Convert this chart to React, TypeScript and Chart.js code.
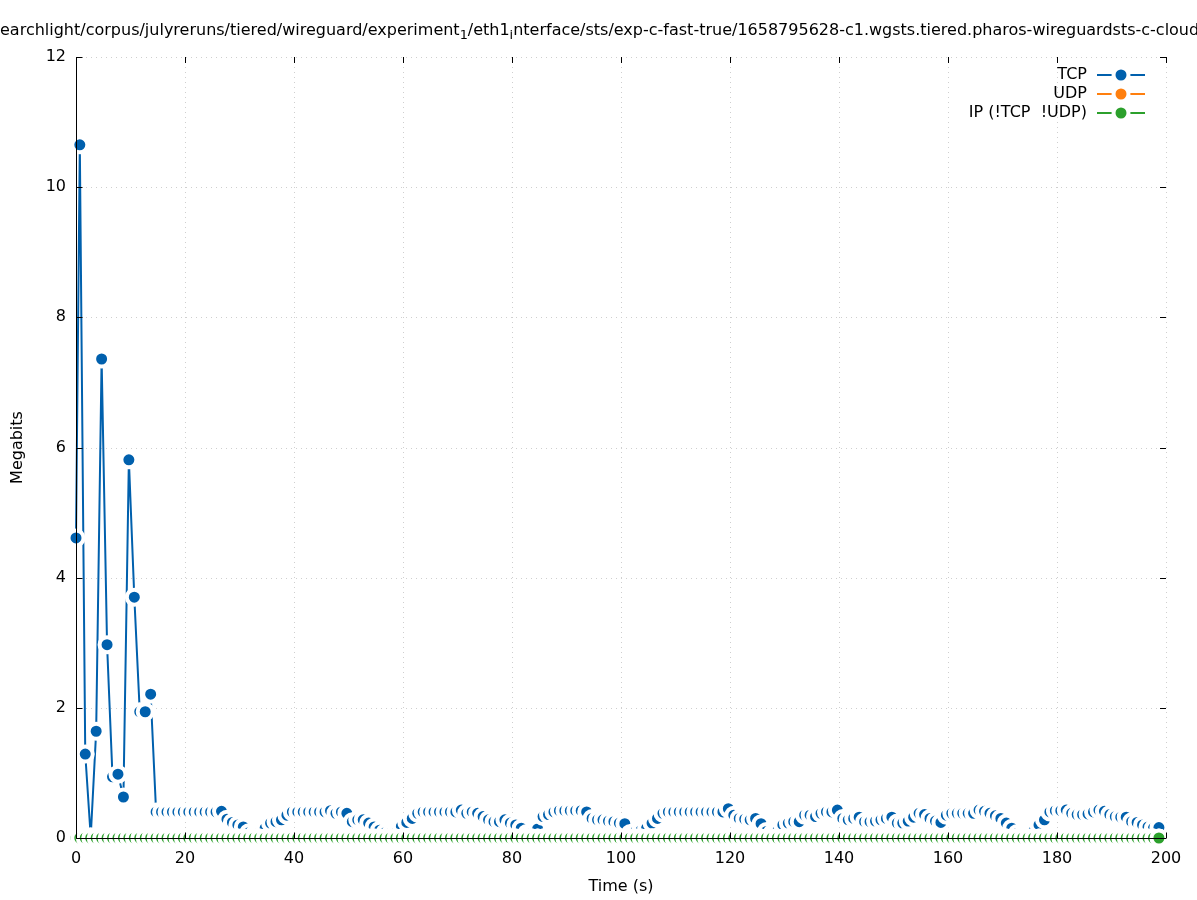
import React, { useEffect, useRef } from "react";
import { Chart, registerables } from "chart.js";

Chart.register(...registerables);

// ---------- data ----------
const TIMES_S = [
  0,
  0.7, 1.7, 2.7, 3.7, 4.7, 5.7, 6.7, 7.7, 8.7, 9.7,
  10.7, 11.7, 12.7, 13.7, 14.7, 15.7, 16.7, 17.7, 18.7, 19.7,
  20.7, 21.7, 22.7, 23.7, 24.7, 25.7, 26.7, 27.7, 28.7, 29.7,
  30.7, 31.7, 32.7, 33.7, 34.7, 35.7, 36.7, 37.7, 38.7, 39.7,
  40.7, 41.7, 42.7, 43.7, 44.7, 45.7, 46.7, 47.7, 48.7, 49.7,
  50.7, 51.7, 52.7, 53.7, 54.7, 55.7, 56.7, 57.7, 58.7, 59.7,
  60.7, 61.7, 62.7, 63.7, 64.7, 65.7, 66.7, 67.7, 68.7, 69.7,
  70.7, 71.7, 72.7, 73.7, 74.7, 75.7, 76.7, 77.7, 78.7, 79.7,
  80.7, 81.7, 82.7, 83.7, 84.7, 85.7, 86.7, 87.7, 88.7, 89.7,
  90.7, 91.7, 92.7, 93.7, 94.7, 95.7, 96.7, 97.7, 98.7, 99.7,
  100.7, 101.7, 102.7, 103.7, 104.7, 105.7, 106.7, 107.7, 108.7, 109.7,
  110.7, 111.7, 112.7, 113.7, 114.7, 115.7, 116.7, 117.7, 118.7, 119.7,
  120.7, 121.7, 122.7, 123.7, 124.7, 125.7, 126.7, 127.7, 128.7, 129.7,
  130.7, 131.7, 132.7, 133.7, 134.7, 135.7, 136.7, 137.7, 138.7, 139.7,
  140.7, 141.7, 142.7, 143.7, 144.7, 145.7, 146.7, 147.7, 148.7, 149.7,
  150.7, 151.7, 152.7, 153.7, 154.7, 155.7, 156.7, 157.7, 158.7, 159.7,
  160.7, 161.7, 162.7, 163.7, 164.7, 165.7, 166.7, 167.7, 168.7, 169.7,
  170.7, 171.7, 172.7, 173.7, 174.7, 175.7, 176.7, 177.7, 178.7, 179.7,
  180.7, 181.7, 182.7, 183.7, 184.7, 185.7, 186.7, 187.7, 188.7, 189.7,
  190.7, 191.7, 192.7, 193.7, 194.7, 195.7, 196.7, 197.7, 198.7,
];

const TCP_MBITS = [
  4.61,
  10.65, 1.29, 0.02, 1.64, 7.36, 2.97, 0.94, 0.98, 0.63, 5.81,
  3.70, 1.94, 1.94, 2.21, 0.40, 0.40, 0.40, 0.40, 0.40, 0.40,
  0.40, 0.40, 0.40, 0.40, 0.40, 0.40, 0.41, 0.29, 0.24, 0.20,
  0.17, 0.08, 0.06, 0.08, 0.15, 0.23, 0.25, 0.28, 0.35, 0.40,
  0.40, 0.40, 0.40, 0.40, 0.40, 0.40, 0.42, 0.38, 0.40, 0.38,
  0.25, 0.28, 0.28, 0.23, 0.17, 0.12, 0.08, 0.07, 0.08, 0.18,
  0.24, 0.30, 0.38, 0.40, 0.40, 0.40, 0.40, 0.40, 0.40, 0.40,
  0.43, 0.38, 0.40, 0.38, 0.33, 0.28, 0.25, 0.25, 0.28, 0.23,
  0.20, 0.15, 0.07, 0.08, 0.14, 0.33, 0.36, 0.40, 0.42, 0.42,
  0.42, 0.42, 0.42, 0.40, 0.30, 0.28, 0.28, 0.26, 0.25, 0.23,
  0.22, 0.07, 0.10, 0.12, 0.15, 0.23, 0.30, 0.38, 0.40, 0.40,
  0.40, 0.40, 0.40, 0.40, 0.40, 0.40, 0.40, 0.40, 0.40, 0.45,
  0.35, 0.30, 0.29, 0.28, 0.30, 0.22, 0.10, 0.07, 0.10, 0.20,
  0.23, 0.25, 0.25, 0.35, 0.35, 0.33, 0.38, 0.40, 0.40, 0.43,
  0.30, 0.28, 0.30, 0.32, 0.25, 0.25, 0.26, 0.28, 0.30, 0.32,
  0.23, 0.23, 0.26, 0.32, 0.38, 0.36, 0.30, 0.26, 0.24, 0.35,
  0.38, 0.38, 0.38, 0.38, 0.38, 0.43, 0.41, 0.38, 0.34, 0.30,
  0.23, 0.15, 0.07, 0.06, 0.07, 0.10, 0.20, 0.28, 0.40, 0.42,
  0.42, 0.43, 0.38, 0.36, 0.36, 0.37, 0.40, 0.43, 0.41, 0.36,
  0.33, 0.32, 0.32, 0.25, 0.24, 0.20, 0.17, 0.15, 0.16,
];

const UDP_MBITS = [
  0, 0, 0, 0, 0, 0, 0, 0, 0, 0, 0, 0, 0, 0, 0, 0, 0, 0, 0, 0,
  0, 0, 0, 0, 0, 0, 0, 0, 0, 0, 0, 0, 0, 0, 0, 0, 0, 0, 0, 0,
  0, 0, 0, 0, 0, 0, 0, 0, 0, 0, 0, 0, 0, 0, 0, 0, 0, 0, 0, 0,
  0, 0, 0, 0, 0, 0, 0, 0, 0, 0, 0, 0, 0, 0, 0, 0, 0, 0, 0, 0,
  0, 0, 0, 0, 0, 0, 0, 0, 0, 0, 0, 0, 0, 0, 0, 0, 0, 0, 0, 0,
  0, 0, 0, 0, 0, 0, 0, 0, 0, 0, 0, 0, 0, 0, 0, 0, 0, 0, 0, 0,
  0, 0, 0, 0, 0, 0, 0, 0, 0, 0, 0, 0, 0, 0, 0, 0, 0, 0, 0, 0,
  0, 0, 0, 0, 0, 0, 0, 0, 0, 0, 0, 0, 0, 0, 0, 0, 0, 0, 0, 0,
  0, 0, 0, 0, 0, 0, 0, 0, 0, 0, 0, 0, 0, 0, 0, 0, 0, 0, 0, 0,
  0, 0, 0, 0, 0, 0, 0, 0, 0, 0, 0, 0, 0, 0, 0, 0, 0, 0, 0, 0,
];

const IP_MBITS = [
  0, 0, 0, 0, 0, 0, 0, 0, 0, 0, 0, 0, 0, 0, 0, 0, 0, 0, 0, 0,
  0, 0, 0, 0, 0, 0, 0, 0, 0, 0, 0, 0, 0, 0, 0, 0, 0, 0, 0, 0,
  0, 0, 0, 0, 0, 0, 0, 0, 0, 0, 0, 0, 0, 0, 0, 0, 0, 0, 0, 0,
  0, 0, 0, 0, 0, 0, 0, 0, 0, 0, 0, 0, 0, 0, 0, 0, 0, 0, 0, 0,
  0, 0, 0, 0, 0, 0, 0, 0, 0, 0, 0, 0, 0, 0, 0, 0, 0, 0, 0, 0,
  0, 0, 0, 0, 0, 0, 0, 0, 0, 0, 0, 0, 0, 0, 0, 0, 0, 0, 0, 0,
  0, 0, 0, 0, 0, 0, 0, 0, 0, 0, 0, 0, 0, 0, 0, 0, 0, 0, 0, 0,
  0, 0, 0, 0, 0, 0, 0, 0, 0, 0, 0, 0, 0, 0, 0, 0, 0, 0, 0, 0,
  0, 0, 0, 0, 0, 0, 0, 0, 0, 0, 0, 0, 0, 0, 0, 0, 0, 0, 0, 0,
  0, 0, 0, 0, 0, 0, 0, 0, 0, 0, 0, 0, 0, 0, 0, 0, 0, 0, 0, 0,
];

const SERIES_LABELS = ["TCP", "UDP", "IP (!TCP  !UDP)"];
const X_TICKS = [0, 20, 40, 60, 80, 100, 120, 140, 160, 180, 200];
const Y_TICKS = [0, 2, 4, 6, 8, 10, 12];
const X_TITLE = "Time (s)";
const Y_TITLE = "Megabits";
const TITLE_PARTS: { text: string; sub: boolean }[] = [
  { text: "searchlight/corpus/julyreruns/tiered/wireguard/experiment", sub: false },
  { text: "1", sub: true },
  { text: "/eth1", sub: false },
  { text: "i", sub: true },
  { text: "nterface/sts/exp-c-fast-true/1658795628-c1.wgsts.tiered.pharos-wireguardsts-c-cloud", sub: false },
];

// ---------- styles ----------
const COLORS = ["#0060ad", "#ff7f0e", "#2ca02c"];
const FONT_FAMILY = '"DejaVu Sans", "Liberation Sans", sans-serif';
const FONT_PX = 16;
const PT_RADIUS = 7.5;
const PT_BORDER = 4;

function pts(values: number[]) {
  return values.map((v, i) => ({ x: TIMES_S[i], y: v }));
}

const gnuplotPlugin = {
  id: "gnuplotDecor",
  beforeDatasetsDraw(chart: any) {
    const { ctx, chartArea: a, scales } = chart;
    ctx.save();
    ctx.strokeStyle = "#cfcfcf";
    ctx.lineWidth = 1;
    ctx.setLineDash([1, 4]);
    for (const v of X_TICKS) {
      if (v === X_TICKS[0]) continue;
      const x = Math.round(scales.x.getPixelForValue(v)) + 0.5;
      ctx.beginPath();
      ctx.moveTo(x, a.top);
      ctx.lineTo(x, a.bottom);
      ctx.stroke();
    }
    for (const v of Y_TICKS) {
      if (v === Y_TICKS[0]) continue;
      const y = Math.round(scales.y.getPixelForValue(v)) + 0.5;
      ctx.beginPath();
      ctx.moveTo(a.left, y);
      ctx.lineTo(a.right, y);
      ctx.stroke();
    }
    ctx.restore();
  },
  afterDatasetsDraw(chart: any) {
    const { ctx, chartArea: a, scales } = chart;
    ctx.save();
    ctx.setLineDash([]);
    ctx.strokeStyle = "#000";
    ctx.lineWidth = 1;
    const L = Math.round(a.left) + 0.5;
    const B = Math.round(a.bottom) + 0.5;
    ctx.beginPath();
    ctx.moveTo(L, Math.round(a.top));
    ctx.lineTo(L, B);
    ctx.lineTo(Math.round(a.right), B);
    ctx.stroke();
    const tl = 6;
    ctx.beginPath();
    for (const v of X_TICKS) {
      const x = Math.round(scales.x.getPixelForValue(v)) + 0.5;
      ctx.moveTo(x, B);
      ctx.lineTo(x, B - tl);
      ctx.moveTo(x, a.top);
      ctx.lineTo(x, a.top + tl);
    }
    for (const v of Y_TICKS) {
      const y = Math.round(scales.y.getPixelForValue(v)) + 0.5;
      ctx.moveTo(L, y);
      ctx.lineTo(L + tl, y);
      ctx.moveTo(a.right, y);
      ctx.lineTo(a.right - tl, y);
    }
    ctx.stroke();

    // legend
    ctx.font = `${FONT_PX}px ${FONT_FAMILY}`;
    ctx.textAlign = "right";
    ctx.textBaseline = "middle";
    const rowY = [75, 94, 113];
    SERIES_LABELS.forEach((lab, i) => {
      const y = rowY[i];
      ctx.fillStyle = "#000";
      ctx.fillText(lab, 1087, y);
      ctx.strokeStyle = COLORS[i];
      ctx.lineWidth = 2;
      ctx.beginPath();
      ctx.moveTo(1097, y);
      ctx.lineTo(1145, y);
      ctx.stroke();
      ctx.beginPath();
      ctx.arc(1121, y, PT_RADIUS, 0, Math.PI * 2);
      ctx.fillStyle = COLORS[i];
      ctx.fill();
      ctx.lineWidth = PT_BORDER;
      ctx.strokeStyle = "#fff";
      ctx.stroke();
    });

    // axis titles
    ctx.fillStyle = "#000";
    ctx.textAlign = "center";
    ctx.textBaseline = "middle";
    ctx.fillText(X_TITLE, (a.left + a.right) / 2, 887);
    ctx.save();
    ctx.translate(18, (a.top + a.bottom) / 2);
    ctx.rotate(-Math.PI / 2);
    ctx.fillText(Y_TITLE, 0, 0);
    ctx.restore();

    // title with subscripts
    ctx.textAlign = "left";
    ctx.textBaseline = "alphabetic";
    const mainFont = `${FONT_PX}px ${FONT_FAMILY}`;
    const subFont = `${FONT_PX * 0.8}px ${FONT_FAMILY}`;
    ctx.font = mainFont;
    let x = 0 - ctx.measureText(TITLE_PARTS[0].text.charAt(0)).width;
    const base = 35;
    for (const p of TITLE_PARTS) {
      ctx.font = p.sub ? subFont : mainFont;
      ctx.fillText(p.text, x, p.sub ? base + 4 : base);
      x += ctx.measureText(p.text).width;
    }
    ctx.restore();
  },
};

export default function App() {
  const ref = useRef<HTMLCanvasElement | null>(null);
  useEffect(() => {
    const canvas = ref.current;
    if (!canvas) return;
    const mk = (label: string, values: number[], color: string, order: number) => ({
      label,
      data: pts(values),
      borderColor: color,
      backgroundColor: color,
      borderWidth: 2,
      pointRadius: PT_RADIUS,
      pointBorderWidth: PT_BORDER,
      pointBorderColor: "#ffffff",
      pointBackgroundColor: color,
      pointHoverRadius: PT_RADIUS,
      tension: 0,
      clip: false as any,
      order,
    });
    const chart = new Chart(canvas, {
      type: "line",
      data: {
        datasets: [
          mk(SERIES_LABELS[0], TCP_MBITS, COLORS[0], 3),
          mk(SERIES_LABELS[1], UDP_MBITS, COLORS[1], 2),
          mk(SERIES_LABELS[2], IP_MBITS, COLORS[2], 1),
        ] as any,
      },
      options: {
        responsive: false,
        animation: false,
        devicePixelRatio: 1,
        events: [],
        layout: { padding: { left: 0, right: 31, top: 57, bottom: 0 } },
        plugins: {
          legend: { display: false },
          tooltip: { enabled: false },
          title: { display: false },
        },
        scales: {
          x: {
            type: "linear",
            min: X_TICKS[0],
            max: X_TICKS[X_TICKS.length - 1],
            afterBuildTicks: (s: any) => {
              s.ticks = X_TICKS.map((v) => ({ value: v }));
            },
            afterFit: (s: any) => {
              s.height = 62;
            },
            grid: { display: false, drawTicks: false },
            border: { display: false },
            ticks: {
              autoSkip: false,
              maxRotation: 0,
              padding: 11,
              color: "#000",
              font: { family: FONT_FAMILY, size: FONT_PX },
            },
          },
          y: {
            type: "linear",
            min: Y_TICKS[0],
            max: Y_TICKS[Y_TICKS.length - 1],
            afterBuildTicks: (s: any) => {
              s.ticks = Y_TICKS.map((v) => ({ value: v }));
            },
            afterFit: (s: any) => {
              s.width = 76;
            },
            grid: { display: false, drawTicks: false },
            border: { display: false },
            ticks: {
              autoSkip: false,
              padding: 10,
              color: "#000",
              font: { family: FONT_FAMILY, size: FONT_PX },
            },
          },
        },
      },
      plugins: [gnuplotPlugin],
    });
    return () => chart.destroy();
  }, []);
  return (
    <div style={{ position: "absolute", left: 0, top: 0, width: 1197, height: 900, background: "#fff" }}>
      <canvas ref={ref} width={1197} height={900} style={{ width: 1197, height: 900, display: "block" }} />
    </div>
  );
}
